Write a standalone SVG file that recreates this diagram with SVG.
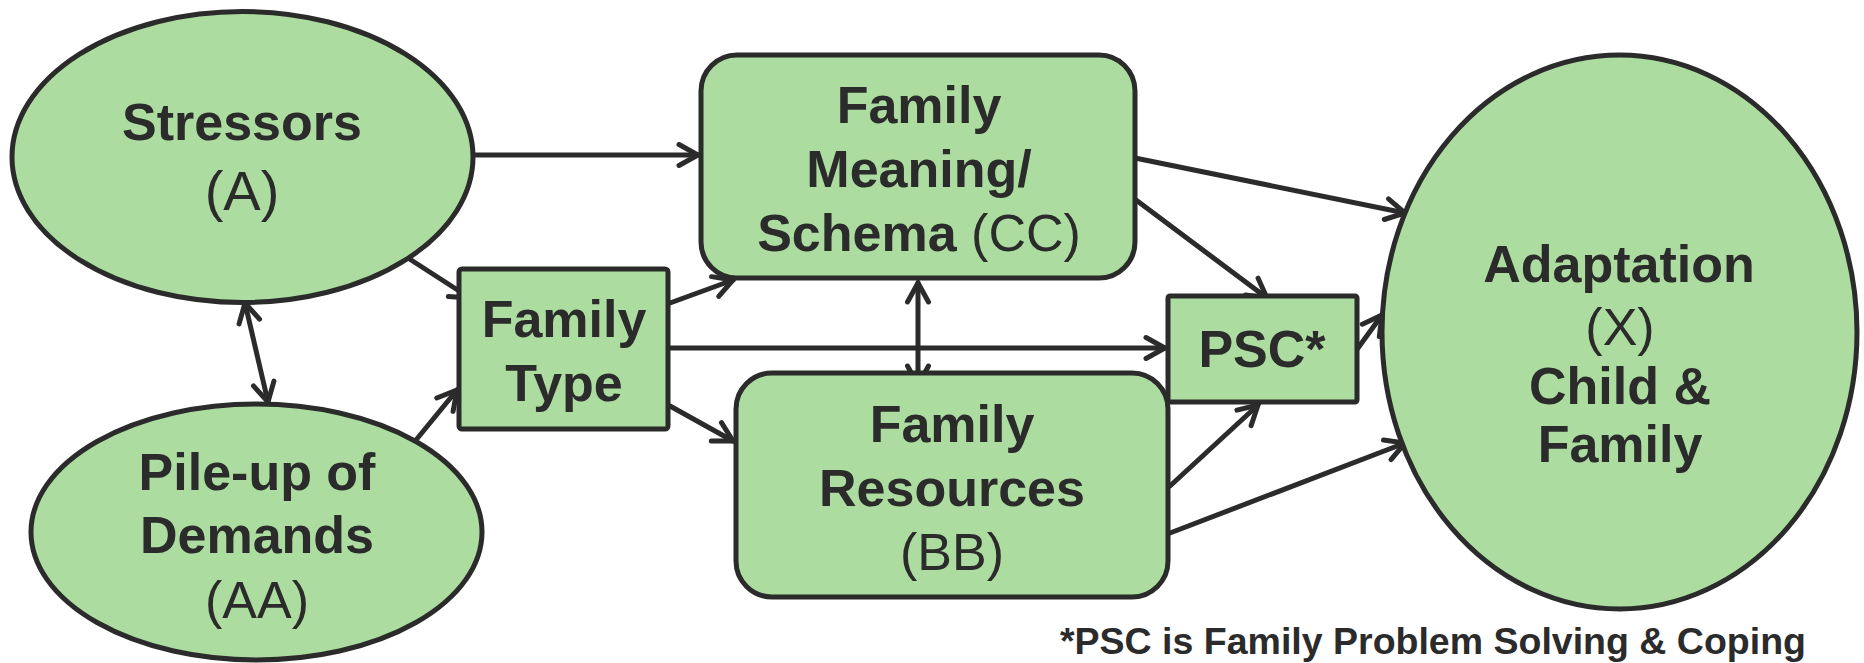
<svg xmlns="http://www.w3.org/2000/svg" width="1864" height="663" viewBox="0 0 1864 663">
<defs>
<style>
.node{fill:#acdca0;stroke:#2b2b2b;stroke-width:5}
.b{font-family:"Liberation Sans",Arial,sans-serif;font-weight:bold;font-size:52px;fill:#2b2b2b;text-anchor:middle}
.r{font-weight:normal}
.conn{stroke:#2b2b2b;stroke-width:5;fill:none;stroke-linecap:round}
</style>
<marker id="ah" markerUnits="userSpaceOnUse" viewBox="-30 -20 40 40" refX="0" refY="0" markerWidth="40" markerHeight="40" orient="auto-start-reverse">
<path d="M-19,-10.5 L0,0 L-19,10.5" fill="none" stroke="#2b2b2b" stroke-width="5" stroke-linecap="round" stroke-linejoin="miter"/>
</marker>
</defs>
<rect width="1864" height="663" fill="#ffffff"/>
<g id="connectors">
<line class="conn" x1="460" y1="155" x2="698" y2="155" marker-end="url(#ah)"/>
<line class="conn" x1="408" y1="258" x2="470" y2="298" marker-end="url(#ah)"/>
<line class="conn" x1="245" y1="303" x2="268" y2="402" marker-start="url(#ah)" marker-end="url(#ah)"/>
<line class="conn" x1="416" y1="440" x2="457" y2="390" marker-end="url(#ah)"/>
<line class="conn" x1="670" y1="303" x2="733" y2="280" marker-end="url(#ah)"/>
<line class="conn" x1="668" y1="348" x2="1165" y2="348" marker-end="url(#ah)"/>
<line class="conn" x1="670" y1="406" x2="733" y2="441" marker-end="url(#ah)"/>
<line class="conn" x1="918" y1="283" x2="918" y2="385" marker-start="url(#ah)" marker-end="url(#ah)"/>
<line class="conn" x1="1135" y1="158" x2="1405" y2="213" marker-end="url(#ah)"/>
<line class="conn" x1="1136" y1="200" x2="1267" y2="298" marker-end="url(#ah)"/>
<line class="conn" x1="1170" y1="486" x2="1258" y2="405" marker-end="url(#ah)"/>
<line class="conn" x1="1170" y1="533" x2="1405" y2="443" marker-end="url(#ah)"/>
<line class="conn" x1="1358" y1="348" x2="1382" y2="315" marker-end="url(#ah)"/>
</g>
<g id="stressors">
<ellipse class="node" cx="242.5" cy="157" rx="230.5" ry="145.5"/>
<text class="b" x="242" y="140">Stressors</text>
<text class="b r" x="242" y="210" style="font-size:56px">(A)</text>
</g>
<g id="pileup">
<ellipse class="node" cx="256.5" cy="532" rx="225.5" ry="128"/>
<text class="b" x="257" y="490">Pile-up of</text>
<text class="b" x="257" y="553">Demands</text>
<text class="b r" x="257" y="618">(AA)</text>
</g>
<g id="familytype">
<rect class="node" x="459" y="269" width="209" height="160" rx="3"/>
<text class="b" x="564" y="337">Family</text>
<text class="b" x="564" y="401">Type</text>
</g>
<g id="meaning">
<rect class="node" x="701" y="55" width="434" height="223" rx="36"/>
<text class="b" x="919" y="123">Family</text>
<text class="b" x="919" y="187">Meaning/</text>
<text class="b" x="919" y="251">Schema <tspan class="r">(CC)</tspan></text>
</g>
<g id="resources">
<rect class="node" x="736" y="373" width="432" height="224" rx="36"/>
<text class="b" x="952" y="442">Family</text>
<text class="b" x="952" y="506">Resources</text>
<text class="b r" x="952" y="570">(BB)</text>
</g>
<g id="psc">
<rect class="node" x="1168" y="296" width="189" height="106" rx="2"/>
<text class="b" x="1262" y="367">PSC*</text>
</g>
<g id="adaptation">
<ellipse class="node" cx="1619.5" cy="332" rx="237.5" ry="277"/>
<text class="b" x="1619" y="282">Adaptation</text>
<text class="b r" x="1620" y="345">(X)</text>
<text class="b" x="1620" y="404">Child &amp;</text>
<text class="b" x="1620" y="462">Family</text>
</g>
<g id="footnote">
<text x="1060" y="654" style="font-family:'Liberation Sans',Arial,sans-serif;font-weight:bold;font-size:37.5px;fill:#2b2b2b">*PSC is Family Problem Solving &amp; Coping</text>
</g>
</svg>
